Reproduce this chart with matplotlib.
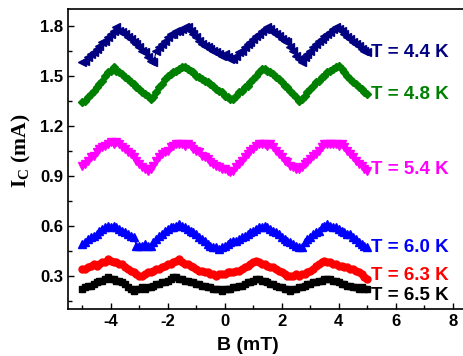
import numpy as np
import matplotlib
matplotlib.use("Agg")
import matplotlib.pyplot as plt
from matplotlib.ticker import MultipleLocator

# field sweep, 0.1 mT steps
B = np.linspace(-5.0, 5.0, 101)

ic_44 = [1.58, 1.59, 1.61, 1.63, 1.64, 1.66, 1.68, 1.70, 1.71, 1.73, 1.75, 1.77, 1.79, 1.77, 1.76, 1.75, 1.73,
         1.72, 1.70, 1.69, 1.67, 1.65, 1.64, 1.61, 1.59, 1.58, 1.65, 1.67, 1.69, 1.71, 1.73, 1.75, 1.75, 1.77,
         1.77, 1.78, 1.79, 1.79, 1.77, 1.75, 1.73, 1.71, 1.69, 1.68, 1.67, 1.66, 1.65, 1.64, 1.63, 1.62, 1.63,
         1.61, 1.60, 1.60, 1.62, 1.64, 1.65, 1.67, 1.69, 1.70, 1.72, 1.74, 1.75, 1.77, 1.78, 1.79, 1.78, 1.76,
         1.75, 1.74, 1.72, 1.71, 1.70, 1.67, 1.65, 1.62, 1.60, 1.58, 1.61, 1.63, 1.65, 1.67, 1.69, 1.71, 1.72,
         1.74, 1.75, 1.76, 1.78, 1.79, 1.78, 1.77, 1.75, 1.73, 1.72, 1.70, 1.69, 1.68, 1.66, 1.65, 1.64]

ic_48 = [1.34, 1.35, 1.37, 1.39, 1.41, 1.43, 1.45, 1.47, 1.50, 1.52, 1.53, 1.55, 1.53, 1.52, 1.51, 1.49, 1.48,
         1.46, 1.45, 1.43, 1.42, 1.40, 1.39, 1.38, 1.36, 1.37, 1.40, 1.43, 1.45, 1.48, 1.50, 1.51, 1.52, 1.53,
         1.54, 1.55, 1.55, 1.54, 1.53, 1.52, 1.50, 1.49, 1.48, 1.47, 1.46, 1.45, 1.44, 1.42, 1.41, 1.40, 1.38,
         1.37, 1.36, 1.36, 1.38, 1.40, 1.41, 1.43, 1.44, 1.46, 1.48, 1.50, 1.52, 1.54, 1.54, 1.53, 1.52, 1.51,
         1.49, 1.48, 1.46, 1.44, 1.43, 1.41, 1.39, 1.37, 1.35, 1.36, 1.38, 1.40, 1.42, 1.44, 1.46, 1.47, 1.49,
         1.50, 1.52, 1.53, 1.54, 1.55, 1.56, 1.54, 1.52, 1.50, 1.48, 1.46, 1.45, 1.43, 1.42, 1.40, 1.39]

ic_54 = [0.96, 0.97, 0.99, 1.01, 1.02, 1.04, 1.06, 1.07, 1.08, 1.09, 1.10, 1.09, 1.10, 1.09, 1.07, 1.06, 1.04,
         1.03, 1.01, 0.99, 0.97, 0.95, 0.94, 0.93, 0.94, 0.96, 0.99, 1.01, 1.03, 1.04, 1.05, 1.07, 1.08, 1.09,
         1.09, 1.09, 1.08, 1.09, 1.08, 1.06, 1.05, 1.04, 1.02, 1.01, 1.00, 0.98, 0.97, 0.96, 0.95, 0.94, 0.94,
         0.93, 0.92, 0.93, 0.95, 0.97, 0.99, 1.01, 1.03, 1.05, 1.06, 1.08, 1.09, 1.09, 1.09, 1.08, 1.09, 1.07,
         1.05, 1.03, 1.01, 0.99, 0.98, 0.96, 0.95, 0.94, 0.94, 0.95, 0.97, 0.98, 1.00, 1.02, 1.03, 1.05, 1.07,
         1.09, 1.09, 1.09, 1.09, 1.09, 1.08, 1.09, 1.07, 1.05, 1.03, 1.01, 0.99, 0.97, 0.96, 0.94, 0.93]

ic_60 = [0.49, 0.50, 0.52, 0.53, 0.54, 0.55, 0.57, 0.58, 0.59, 0.60, 0.59, 0.60, 0.59, 0.58, 0.57, 0.56, 0.55,
         0.54, 0.53, 0.48, 0.48, 0.48, 0.49, 0.48, 0.48, 0.50, 0.52, 0.54, 0.55, 0.57, 0.58, 0.59, 0.59, 0.60,
         0.61, 0.60, 0.59, 0.58, 0.57, 0.56, 0.55, 0.53, 0.52, 0.51, 0.49, 0.48, 0.47, 0.47, 0.46, 0.47, 0.48,
         0.49, 0.50, 0.51, 0.51, 0.52, 0.53, 0.54, 0.55, 0.56, 0.57, 0.58, 0.59, 0.59, 0.60, 0.59, 0.58, 0.57,
         0.56, 0.55, 0.53, 0.52, 0.51, 0.50, 0.49, 0.48, 0.47, 0.47, 0.50, 0.52, 0.53, 0.55, 0.56, 0.57, 0.59,
         0.60, 0.61, 0.60, 0.59, 0.59, 0.58, 0.57, 0.56, 0.55, 0.55, 0.53, 0.52, 0.50, 0.49, 0.48, 0.47]

ic_63 = [0.34, 0.34, 0.35, 0.36, 0.37, 0.36, 0.37, 0.38, 0.38, 0.40, 0.39, 0.38, 0.38, 0.37, 0.37, 0.35, 0.34,
         0.33, 0.32, 0.31, 0.30, 0.30, 0.31, 0.32, 0.32, 0.33, 0.34, 0.34, 0.35, 0.36, 0.37, 0.37, 0.38, 0.39,
         0.40, 0.38, 0.37, 0.37, 0.36, 0.35, 0.34, 0.33, 0.33, 0.32, 0.32, 0.31, 0.31, 0.30, 0.31, 0.31, 0.31,
         0.32, 0.32, 0.32, 0.33, 0.33, 0.34, 0.35, 0.36, 0.37, 0.38, 0.39, 0.38, 0.37, 0.37, 0.36, 0.35, 0.35,
         0.34, 0.33, 0.32, 0.31, 0.30, 0.30, 0.30, 0.31, 0.30, 0.31, 0.31, 0.32, 0.33, 0.34, 0.36, 0.37, 0.38,
         0.39, 0.38, 0.38, 0.37, 0.37, 0.36, 0.36, 0.35, 0.35, 0.34, 0.34, 0.33, 0.32, 0.31, 0.29, 0.28]

ic_65 = [0.22, 0.23, 0.24, 0.24, 0.25, 0.26, 0.27, 0.27, 0.28, 0.29, 0.28, 0.28, 0.27, 0.27, 0.26, 0.25, 0.23,
         0.22, 0.21, 0.22, 0.22, 0.23, 0.22, 0.23, 0.23, 0.24, 0.25, 0.25, 0.26, 0.26, 0.27, 0.28, 0.29, 0.29,
         0.28, 0.28, 0.27, 0.27, 0.26, 0.26, 0.25, 0.25, 0.24, 0.24, 0.23, 0.23, 0.22, 0.22, 0.22, 0.21, 0.22,
         0.22, 0.22, 0.23, 0.23, 0.24, 0.24, 0.25, 0.26, 0.26, 0.27, 0.28, 0.28, 0.27, 0.27, 0.26, 0.25, 0.25,
         0.24, 0.23, 0.23, 0.22, 0.22, 0.21, 0.22, 0.22, 0.23, 0.23, 0.24, 0.25, 0.25, 0.26, 0.26, 0.27, 0.27,
         0.28, 0.28, 0.28, 0.27, 0.27, 0.26, 0.25, 0.25, 0.24, 0.24, 0.23, 0.23, 0.22, 0.23, 0.22, 0.22]

labels = ["T = 4.4 K", "T = 4.8 K", "T = 5.4 K", "T = 6.0 K", "T = 6.3 K", "T = 6.5 K"]
label_y = [1.64, 1.39, 0.94, 0.47, 0.30, 0.18]

series = [ic_44, ic_48, ic_54, ic_60, ic_63, ic_65]
colors = ["#000080", "#008000", "#ff00ff", "#0000ff", "#ff0000", "#000000"]
markers = ["<", "D", "v", "^", "o", "s"]
msizes = [5.5, 4.5, 5.5, 5.5, 5, 5]

plt.rcParams["font.family"] = ["Liberation Sans", "DejaVu Sans"]
plt.rcParams["font.weight"] = "bold"

fig = plt.figure(figsize=(4.64, 3.56), dpi=100)
ax = fig.add_axes([68 / 464, 47 / 356, 399 / 464, 300 / 356])

for y, c, m, ms in zip(series, colors, markers, msizes):
    ax.plot(B, y, color=c, marker=m, ms=ms, lw=0.8, mec=c, mfc=c)

for lab, ly, c in zip(labels, label_y, colors):
    ax.text(5.12, ly, lab, color=c, fontsize=13.5, fontweight="bold", va="center", ha="left")

ax.set_xlim(-5.5, 8.5)
ax.set_ylim(0.1, 1.9)
ax.xaxis.set_minor_locator(MultipleLocator(1))
ax.yaxis.set_minor_locator(MultipleLocator(0.15))
ax.tick_params(which="both", direction="in", labelsize=12, width=1)
ax.tick_params(which="major", length=4)
ax.tick_params(which="minor", length=3)
ax.tick_params(right=False, top=False, which="both")
ax.set_xticks([-4, -2, 0, 2, 4, 6, 8])
ax.set_xticklabels(["-4", "-2", "0", "2", "4", "6", "8"], fontweight="bold")
ax.set_yticks([0.3, 0.6, 0.9, 1.2, 1.5, 1.8])
ax.set_yticklabels(["0.3", "0.6", "0.9", "1.2", "1.5", "1.8"], fontweight="bold")
ax.spines["right"].set_visible(False)
for s in ["left", "bottom", "top"]:
    ax.spines[s].set_linewidth(1.2)

ax.set_xlabel("B (mT)", fontsize=14, fontweight="bold")
ax.xaxis.set_label_coords(0.451, -0.092)
ax.set_ylabel(r"I$_\mathregular{C}$ (mA)", fontsize=15.5, fontweight="bold",
              family=["Liberation Serif"])
ax.yaxis.set_label_coords(-0.088, 0.527)

fig.savefig("out.png", dpi=100)
